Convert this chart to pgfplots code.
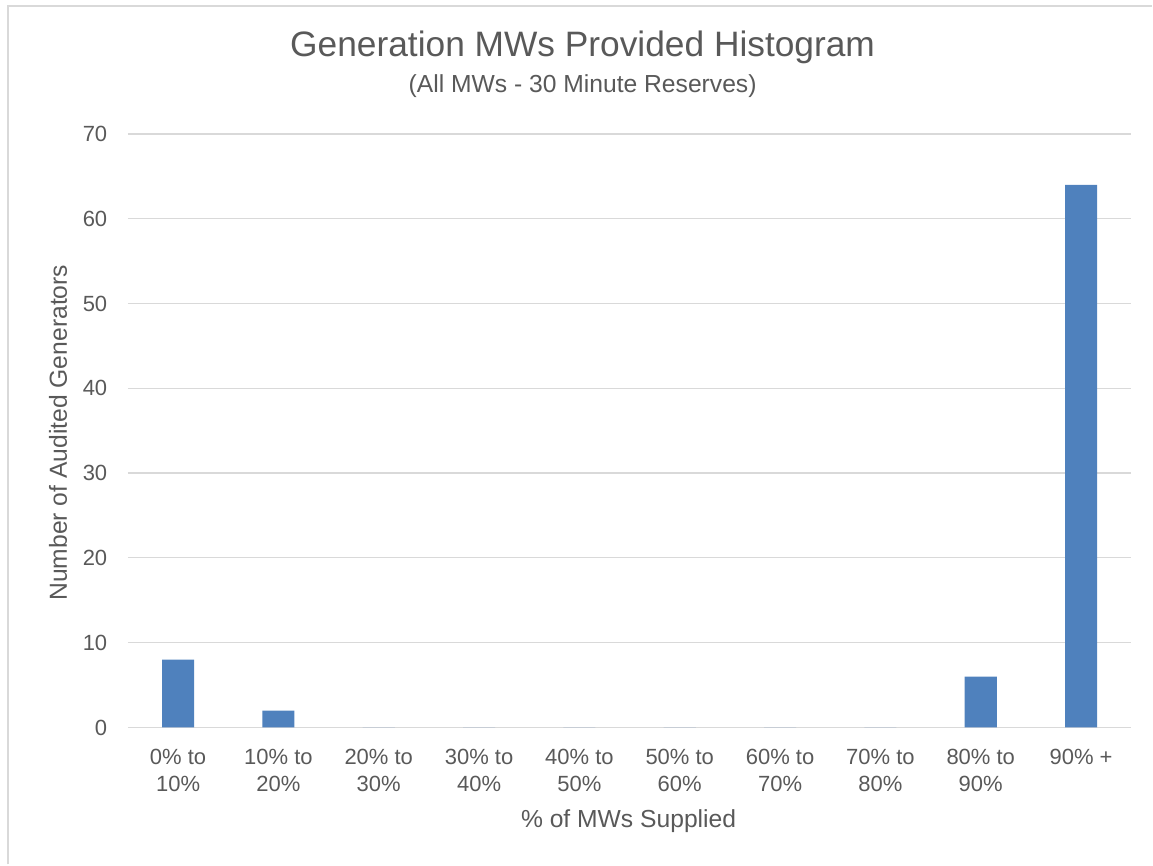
\documentclass[border=0pt]{standalone}
\usepackage{pgfplots}
\pgfplotsset{compat=1.18}
\usepackage{fontspec}
\setmainfont{Liberation Sans}
\definecolor{txt}{HTML}{595959}
\definecolor{grd}{HTML}{D9D9D9}
\definecolor{bar}{HTML}{4F81BD}
\begin{document}
\begin{tikzpicture}
% page 1153x865 px, 1 px = 0.75 pt
\path (0,0) rectangle (864.75pt,648.75pt);
\draw[grd, line width=1.2pt] (6pt,0pt) -- (6pt,644.25pt) -- (864.75pt,644.25pt);
\begin{axis}[
  at={(96pt,102.75pt)}, anchor=south west,
  scale only axis, width=753pt, height=445.5pt,
  xmin=-0.5, xmax=9.5, ymin=0, ymax=70,
  xtick={0,...,9},
  xticklabels={{0\% to\\10\%},{10\% to\\20\%},{20\% to\\30\%},{30\% to\\40\%},{40\% to\\50\%},{50\% to\\60\%},{60\% to\\70\%},{70\% to\\80\%},{80\% to\\90\%},{90\% +}},
  ytick={0,10,...,70},
  ymajorgrids, grid style={grd, line width=0.9pt},
  axis line style={draw=none},
  major tick length=0pt,
  tick label style={font=\fontsize{16.5}{20.5}\selectfont, text=txt},
  xticklabel style={align=center, anchor=north, yshift=-12.5pt},
  yticklabel style={xshift=-12pt},
  /pgf/number format/assume math mode=true,
]
\addplot[ybar, bar width=0.32, fill=bar, draw=none] coordinates {
  (0,8) (1,2) (2,0) (3,0) (4,0) (5,0) (6,0) (7,0) (8,6) (9,64)
};
\end{axis}
\node[text=txt, font=\fontsize{26.5}{32}\selectfont] at (437.25pt,613.5pt) {Generation MWs Provided Histogram};
\node[text=txt, font=\fontsize{18.5}{22}\selectfont] at (437.25pt,584.25pt) {(All MWs - 30 Minute Reserves)};
\node[text=txt, font=\fontsize{18.5}{22}\selectfont] at (471.75pt,32.25pt) {\% of MWs Supplied};
\node[text=txt, font=\fontsize{18.5}{22}\selectfont, rotate=90] at (43.5pt,324pt) {Number of Audited Generators};
\end{tikzpicture}
\end{document}
